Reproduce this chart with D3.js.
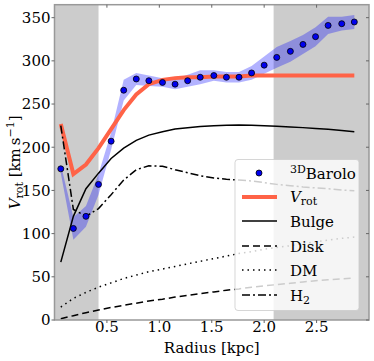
<!DOCTYPE html>
<html>
<head>
<meta charset="utf-8">
<script src="https://cdn.jsdelivr.net/npm/d3@7"></script>
<style>
  body { margin: 0; background: white; }
</style>
</head>
<body>
<svg id="chart" width="374" height="361"></svg>
<script>
// data {{{ //
const radius = [0.06, 0.18, 0.30, 0.42, 0.54, 0.66, 0.78, 0.90, 1.03, 1.15, 1.27, 1.39,
                1.52, 1.64, 1.76, 1.88, 2.00, 2.12, 2.25, 2.37, 2.49, 2.61, 2.74, 2.86];
const barolo = [175, 106, 120, 157, 207, 266, 279, 277, 275, 273, 277, 281,
                283, 281, 281, 286, 295, 304, 311, 319, 328, 341, 343, 345];
const baroloErr = [5, 13, 12, 12, 10, 12, 7, 6, 5, 6, 7, 8,
                   6, 6, 6, 8, 10, 12, 12, 11, 11, 10, 8, 8];
const vrot = [227, 169, 180, 199, 221, 243, 261, 273, 278, 280, 281, 281,
              282, 282, 282, 283, 283, 283, 283, 283, 283, 283, 283, 283];
const bulge = [67, 120, 152, 170, 187, 199, 208, 214, 218, 221, 222.5, 224,
               225, 225.5, 225.7, 225.5, 225, 224.3, 223.5, 222.7, 221.8, 220.7, 219.3, 218];
const disk = [1.5, 5, 8.5, 11.5, 14.5, 17, 19.5, 22, 24, 26.5, 28.5, 30.5,
              32.5, 34.5, 36, 38, 39.5, 41, 42.5, 44, 45.5, 46.5, 47.5, 48.5];
const dm = [15, 25, 32, 38, 43, 48, 52, 56, 59, 62, 65, 68,
            71, 74, 77, 79, 82, 84, 86, 88.5, 90.5, 92.5, 94.5, 96];
const h2 = [225, 128, 120, 129, 145, 162, 174, 178.5, 178, 174, 170.5, 167,
            164.5, 163, 162, 161, 159, 157, 155.5, 154, 153, 152, 150.5, 149.5];
const shaded = [[0, 0.42], [2.09, 3.0]];
const xTicks = [0.5, 1.0, 1.5, 2.0, 2.5];
const yTicks = [0, 50, 100, 150, 200, 250, 300, 350];
// }}} data //

const svg = d3.select("#chart");
const L = 54.5, R = 369, T = 4.7, B = 320;
const FONT = "DejaVu Serif";
const FS = 15, FS_SMALL = 11;

const x = d3.scaleLinear().domain([0, 3.0]).range([L, R]);
const y = d3.scaleLinear().domain([0, 365]).range([B, T]);

// shaded regions
svg.append("g").selectAll("rect")
  .data(shaded)
  .enter().append("rect")
  .attr("x", d => x(d[0]))
  .attr("y", T)
  .attr("width", d => x(d[1]) - x(d[0]))
  .attr("height", B - T)
  .attr("fill", "#cccccc");

const pts = radius.map((r, i) => ({ r: r, v: barolo[i], e: baroloErr[i] }));

// error band
svg.append("path")
  .datum(pts)
  .attr("fill", "#0000ff")
  .attr("fill-opacity", 0.3)
  .attr("d", d3.area()
    .x(d => x(d.r))
    .y0(d => y(d.v - d.e))
    .y1(d => y(d.v + d.e)));

function model(vals) {
  return radius.map((r, i) => ({ r: r, v: vals[i] }));
}
const line = d3.line().x(d => x(d.r)).y(d => y(d.v));

const curves = [
  { vals: vrot, color: "#ff6347", width: 4, dash: null },
  { vals: bulge, color: "black", width: 1.5, dash: null },
  { vals: disk, color: "black", width: 1.5, dash: "7,4" },
  { vals: dm, color: "black", width: 1.5, dash: "1.5,4" },
  { vals: h2, color: "black", width: 1.5, dash: "8,3,2,3" }
];
curves.forEach(function(c) {
  svg.append("path")
    .datum(model(c.vals))
    .attr("fill", "none")
    .attr("stroke", c.color)
    .attr("stroke-width", c.width)
    .attr("stroke-dasharray", c.dash)
    .attr("d", line);
});

// dots
svg.append("g").selectAll("circle")
  .data(pts)
  .enter().append("circle")
  .attr("cx", d => x(d.r))
  .attr("cy", d => y(d.v))
  .attr("r", 3)
  .attr("fill", "#0000ee")
  .attr("stroke", "black")
  .attr("stroke-width", 0.8);

// axes {{{ //
svg.append("rect")
  .attr("x", L).attr("y", T)
  .attr("width", R - L).attr("height", B - T)
  .attr("fill", "none")
  .attr("stroke", "#999")
  .attr("stroke-width", 1.5);

const tk = svg.append("g").attr("stroke", "#666").attr("stroke-width", 1);
yTicks.forEach(function(v) {
  tk.append("line").attr("x1", L - 3).attr("x2", L).attr("y1", y(v)).attr("y2", y(v));
  tk.append("line").attr("x1", R - 3).attr("x2", R).attr("y1", y(v)).attr("y2", y(v));
});
xTicks.forEach(function(v) {
  tk.append("line").attr("x1", x(v)).attr("x2", x(v)).attr("y1", B).attr("y2", B + 3);
  tk.append("line").attr("x1", x(v)).attr("x2", x(v)).attr("y1", T).attr("y2", T + 3);
});

svg.append("g").selectAll("text")
  .data(yTicks)
  .enter().append("text")
  .attr("x", L - 4)
  .attr("y", d => y(d))
  .attr("dy", "0.36em")
  .attr("text-anchor", "end")
  .attr("font-family", FONT)
  .attr("font-size", FS)
  .text(d => d);

svg.append("g").selectAll("text")
  .data(xTicks)
  .enter().append("text")
  .attr("x", d => x(d))
  .attr("y", 332)
  .attr("text-anchor", "middle")
  .attr("font-family", FONT)
  .attr("font-size", FS)
  .text(d => d.toFixed(1));

svg.append("text")
  .attr("x", (L + R) / 2)
  .attr("y", 353)
  .attr("text-anchor", "middle")
  .attr("font-family", FONT)
  .attr("font-size", FS)
  .text("Radius [kpc]");

const yl = svg.append("text")
  .attr("transform", "translate(20," + ((T + B) / 2) + ") rotate(-90)")
  .attr("text-anchor", "middle")
  .attr("font-family", FONT)
  .attr("font-size", FS);
yl.append("tspan").attr("font-style", "italic").text("V");
yl.append("tspan").attr("dy", 3).attr("font-size", FS_SMALL).text("rot");
yl.append("tspan").attr("dy", -3).text(" [km\u2009s");
yl.append("tspan").attr("dy", -6).attr("font-size", FS_SMALL).text("\u22121");
yl.append("tspan").attr("dy", 6).text("]");
// }}} axes //

// legend {{{ //
const lg = svg.append("g").attr("font-family", FONT).attr("font-size", FS);
lg.append("rect")
  .attr("x", 235).attr("y", 159.5)
  .attr("width", 124).attr("height", 151)
  .attr("rx", 3)
  .attr("fill", "white").attr("fill-opacity", 0.8)
  .attr("stroke", "#cccccc").attr("stroke-opacity", 0.8);

const rowY = [173, 197, 221, 246, 270, 295];
lg.append("circle")
  .attr("cx", 259).attr("cy", rowY[0]).attr("r", 3)
  .attr("fill", "#0000ee").attr("stroke", "black").attr("stroke-width", 0.8);
curves.forEach(function(c, i) {
  lg.append("line")
    .attr("x1", 242).attr("x2", 277)
    .attr("y1", rowY[i + 1]).attr("y2", rowY[i + 1])
    .attr("stroke", c.color)
    .attr("stroke-width", c.width)
    .attr("stroke-dasharray", c.dash);
});

const t0 = lg.append("text").attr("x", 290).attr("y", rowY[0] + 6);
t0.append("tspan").attr("dy", -6).attr("font-size", FS_SMALL).text("3D");
t0.append("tspan").attr("dy", 6).text("Barolo");

const t1 = lg.append("text").attr("x", 290).attr("y", rowY[1] + 5);
t1.append("tspan").attr("font-style", "italic").text("V");
t1.append("tspan").attr("dy", 3).attr("font-size", FS_SMALL).text("rot");

["Bulge", "Disk", "DM"].forEach(function(s, i) {
  lg.append("text").attr("x", 290).attr("y", rowY[i + 2] + 6).text(s);
});
const t5 = lg.append("text").attr("x", 290).attr("y", rowY[5] + 6);
t5.append("tspan").text("H");
t5.append("tspan").attr("dy", 3).attr("font-size", FS_SMALL).text("2");
// }}} legend //
</script>
</body>
</html>
